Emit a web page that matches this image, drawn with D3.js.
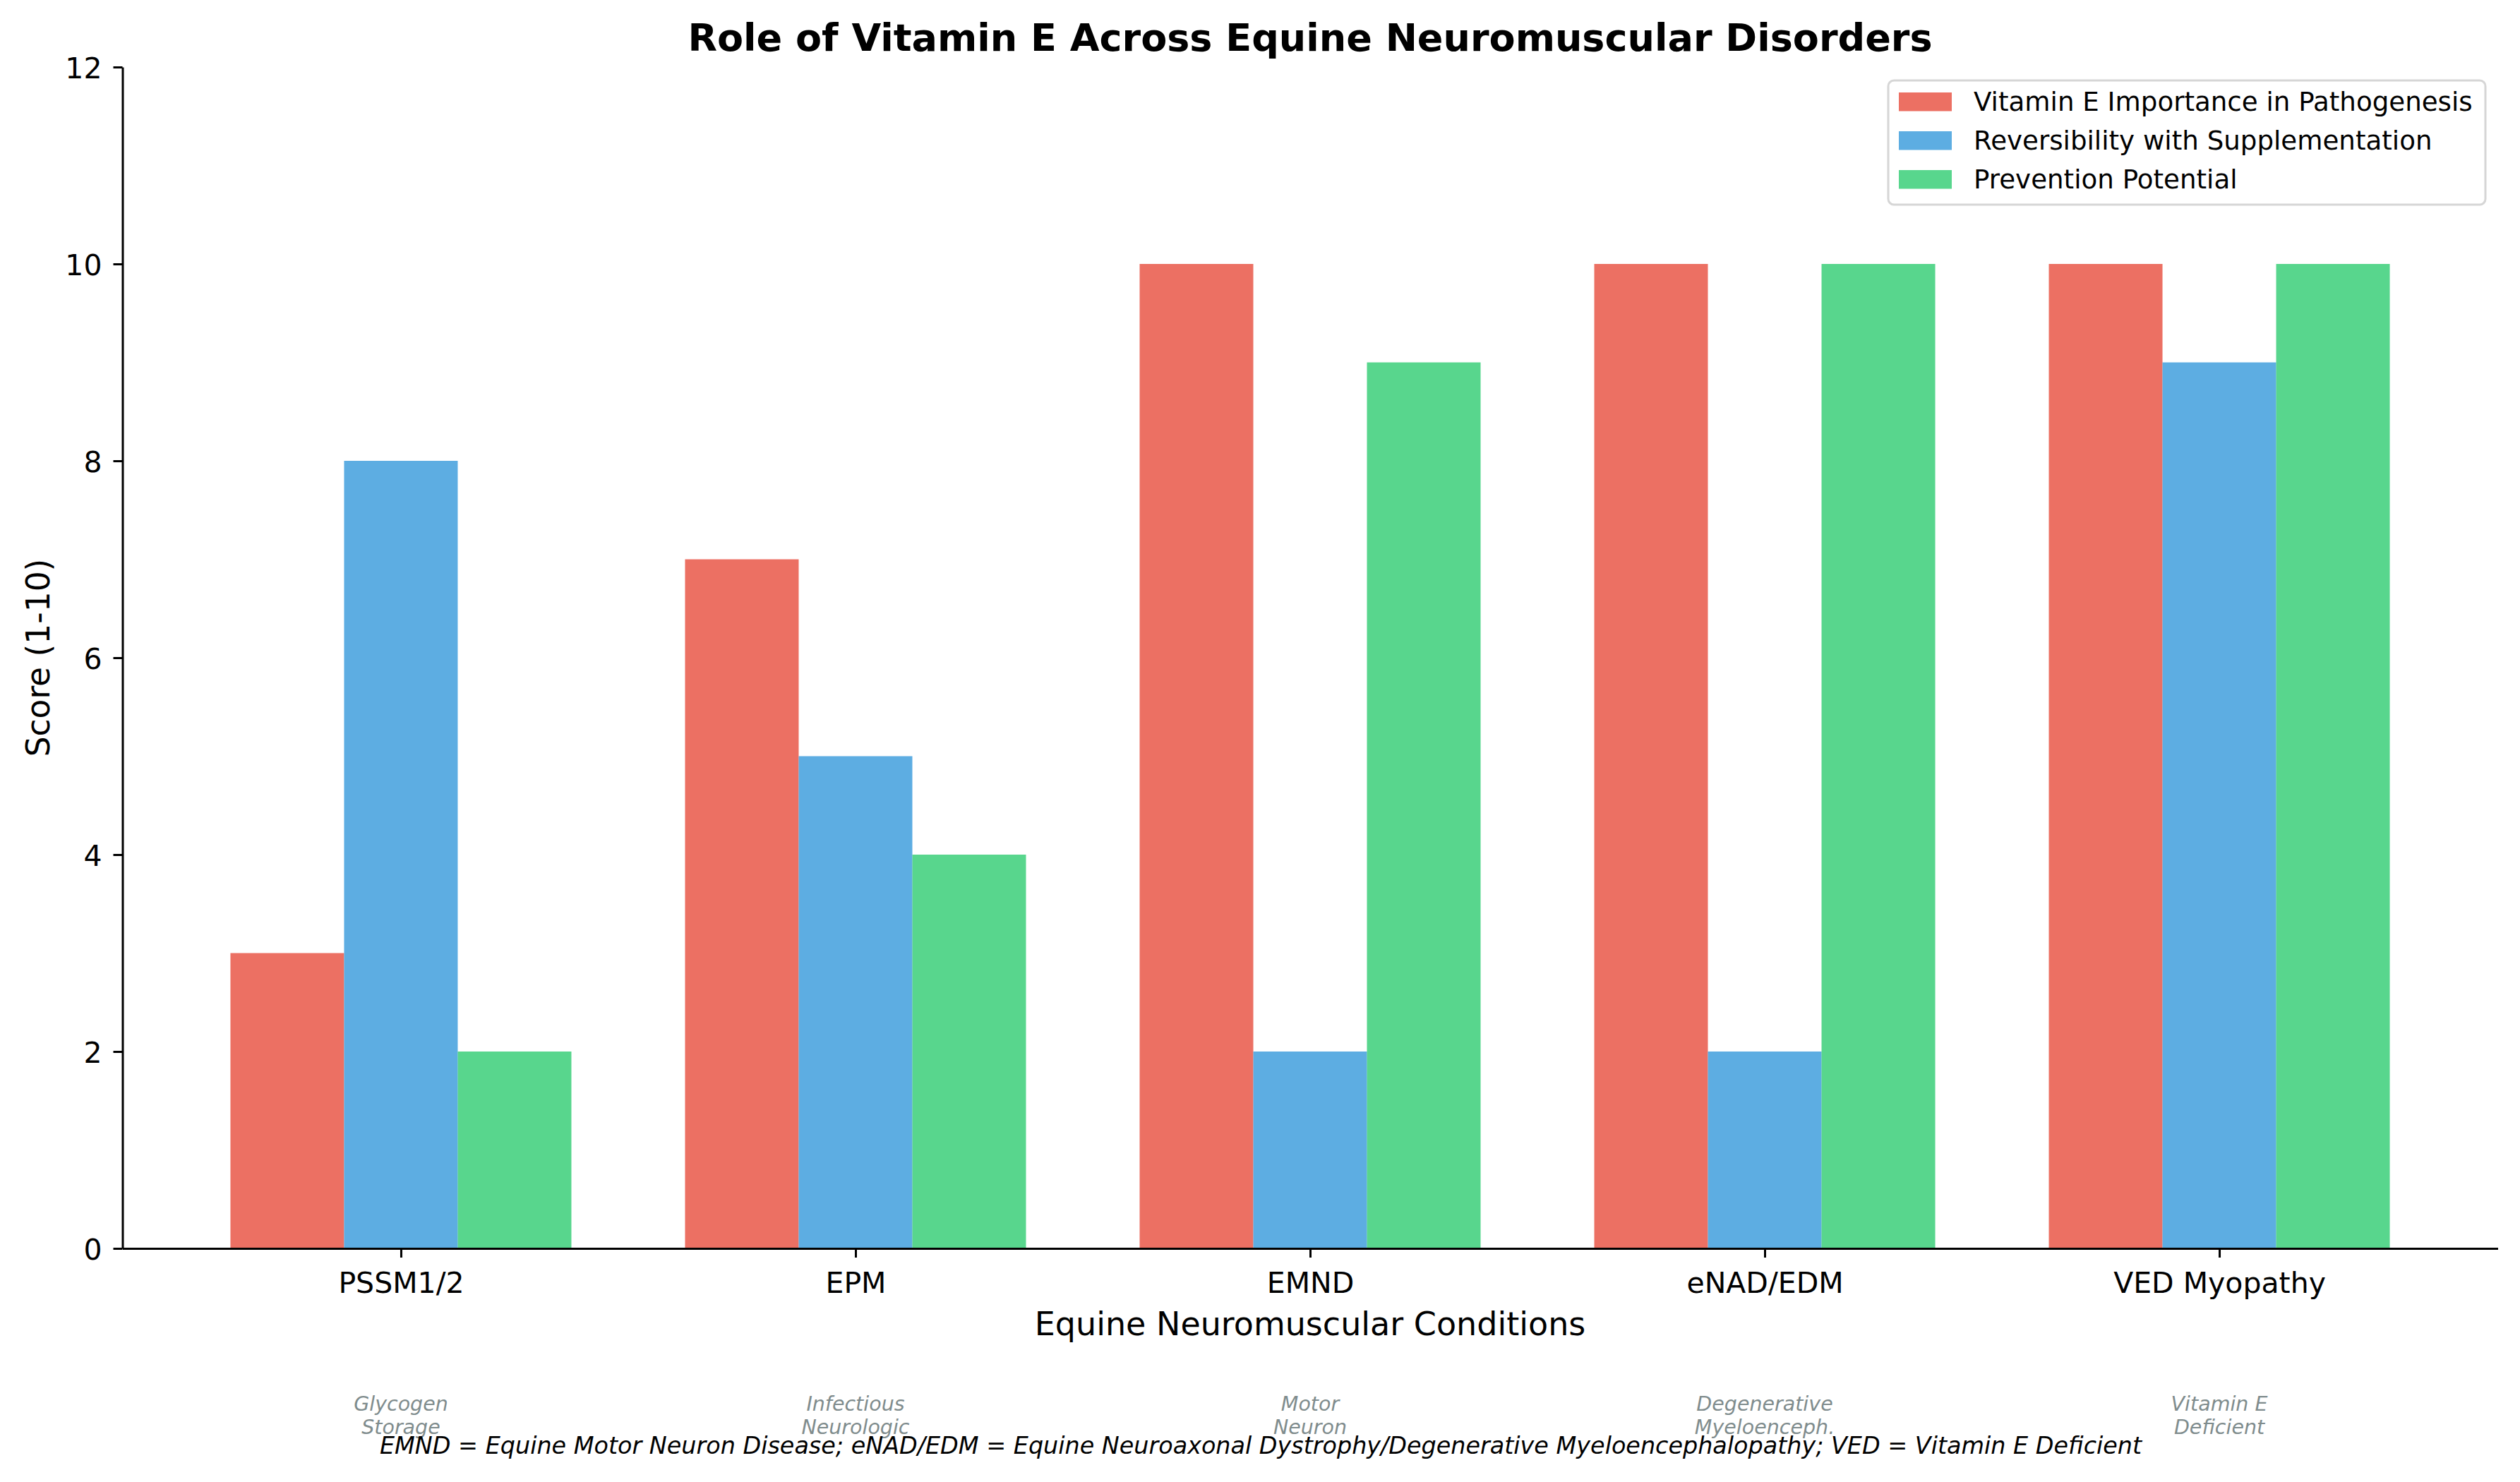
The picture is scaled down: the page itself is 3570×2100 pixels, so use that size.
<!DOCTYPE html>
<html>
<head>
<meta charset="utf-8">
<script src="https://cdn.jsdelivr.net/npm/d3@7"></script>
<style>
  body { margin: 0; background: #fff; }
  text { font-family: "DejaVu Sans", sans-serif; }
</style>
</head>
<body>
<div id="chart"></div>
<script>
var svgWidth = 3570;
var svgHeight = 2100;

// data
var conditions = ["PSSM1/2", "EPM", "EMND", "eNAD/EDM", "VED Myopathy"];
var subtitles = [["Glycogen", "Storage"], ["Infectious", "Neurologic"], ["Motor", "Neuron"],
                 ["Degenerative", "Myeloenceph."], ["Vitamin E", "Deficient"]];
var seriesNames = ["Vitamin E Importance in Pathogenesis", "Reversibility with Supplementation", "Prevention Potential"];
var importance = [3, 7, 10, 10, 10];
var reversibility = [8, 5, 2, 2, 9];
var prevention = [2, 4, 9, 10, 10];
var yTicks = [0, 2, 4, 6, 8, 10, 12];
var colors = ["#e74c3c", "#3498db", "#2ecc71"];

var allSeries = [importance, reversibility, prevention];
var barWidth = 0.25;

// plot area
var plotLeft = 173.5, plotRight = 3538.5, plotTop = 95, plotBottom = 1769;

var svg = d3.select("#chart")
  .append("svg")
  .attr("width", svgWidth)
  .attr("height", svgHeight);

var xScale = d3.scaleLinear()
  .domain([-0.6125, conditions.length - 1 + 0.6125])
  .range([plotLeft, plotRight]);

var yScale = d3.scaleLinear()
  .domain([0, 12])
  .range([plotBottom, plotTop]);

// bars
allSeries.forEach(function(values, s) {
  svg.append("g")
    .selectAll("rect")
    .data(values)
    .enter()
    .append("rect")
    .attr("x", (d, i) => xScale(i + (s - 1) * barWidth - barWidth / 2))
    .attr("width", xScale(barWidth) - xScale(0))
    .attr("y", d => yScale(d))
    .attr("height", d => yScale(0) - yScale(d))
    .attr("fill", colors[s])
    .attr("fill-opacity", 0.8);
});

// axes
var bottomAxis = d3.axisBottom(xScale)
  .tickValues(d3.range(conditions.length))
  .tickFormat(i => conditions[i])
  .tickSize(13)
  .tickSizeOuter(0)
  .tickPadding(21);

var leftAxis = d3.axisLeft(yScale)
  .tickValues(yTicks)
  .tickFormat(d3.format("d"))
  .tickSize(13)
  .tickSizeOuter(0)
  .tickPadding(16);

var xAxisG = svg.append("g")
  .attr("transform", `translate(0, ${plotBottom})`)
  .call(bottomAxis);

var yAxisG = svg.append("g")
  .attr("transform", `translate(${plotLeft}, 0)`)
  .call(leftAxis);

[xAxisG, yAxisG].forEach(function(g) {
  g.select(".domain").attr("stroke", "#000").attr("stroke-width", 3);
  g.selectAll(".tick line").attr("stroke", "#000").attr("stroke-width", 3);
  g.selectAll(".tick text")
    .attr("fill", "#000")
    .style("font-family", "DejaVu Sans")
    .style("font-size", "41px");
});
yAxisG.selectAll(".tick text").attr("dy", "0.38em");

// axis labels
svg.append("text")
  .attr("x", (plotLeft + plotRight) / 2)
  .attr("y", 1892)
  .attr("text-anchor", "middle")
  .style("font-size", "46px")
  .text("Equine Neuromuscular Conditions");

svg.append("text")
  .attr("transform", `translate(70, ${(plotTop + plotBottom) / 2}) rotate(-90)`)
  .attr("text-anchor", "middle")
  .style("font-size", "45.5px")
  .text("Score (1-10)");

// title
svg.append("text")
  .attr("x", (plotLeft + plotRight) / 2)
  .attr("y", 72)
  .attr("text-anchor", "middle")
  .style("font-size", "54px")
  .style("font-weight", "bold")
  .text("Role of Vitamin E Across Equine Neuromuscular Disorders");

// legend
var legend = svg.append("g");
legend.append("rect")
  .attr("x", 2675)
  .attr("y", 114)
  .attr("width", 3521 - 2675)
  .attr("height", 290 - 114)
  .attr("rx", 8)
  .attr("fill", "#fff")
  .attr("stroke", "#d6d6d6")
  .attr("stroke-width", 3);

var legendRows = legend.selectAll(".row")
  .data(seriesNames)
  .enter()
  .append("g")
  .attr("transform", (d, i) => `translate(2690, ${131 + i * 55})`);

legendRows.append("rect")
  .attr("width", 75)
  .attr("height", 26.5)
  .attr("fill", (d, i) => colors[i])
  .attr("fill-opacity", 0.8);

legendRows.append("text")
  .attr("x", 106)
  .attr("y", 26)
  .style("font-size", "37.2px")
  .text(d => d);

// category notes under the axis
var notes = svg.append("g")
  .selectAll("text")
  .data(subtitles)
  .enter()
  .append("text")
  .attr("x", (d, i) => xScale(i))
  .attr("text-anchor", "middle")
  .attr("fill", "#7f8c8d")
  .style("font-size", "28.5px")
  .style("font-style", "italic");

notes.selectAll("tspan")
  .data(d => d)
  .enter()
  .append("tspan")
  .attr("x", function() { return d3.select(this.parentNode).attr("x"); })
  .attr("y", (d, j) => 1999 + j * 33)
  .text(d => d);

// footnote
svg.append("text")
  .attr("x", 1786)
  .attr("y", 2060)
  .attr("text-anchor", "middle")
  .style("font-size", "33.4px")
  .style("font-style", "italic")
  .text("EMND = Equine Motor Neuron Disease; eNAD/EDM = Equine Neuroaxonal Dystrophy/Degenerative Myeloencephalopathy; VED = Vitamin E Deficient");
</script>
</body>
</html>
